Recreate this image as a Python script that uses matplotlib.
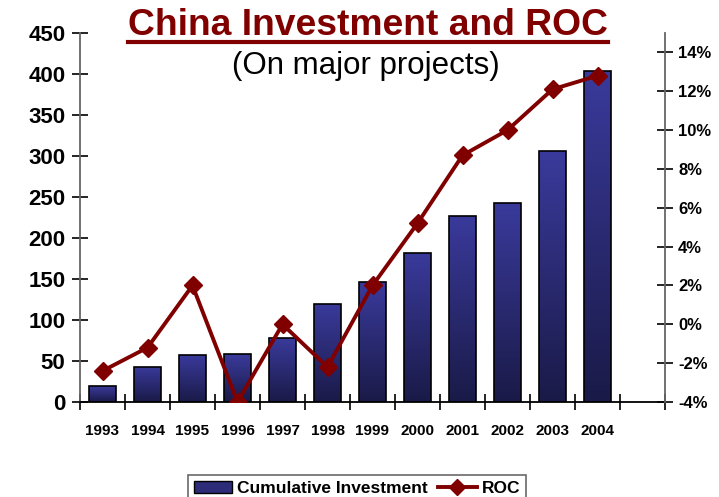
import numpy as np
import matplotlib

matplotlib.use("Agg")
import matplotlib.pyplot as plt
from matplotlib.colors import LinearSegmentedColormap
from matplotlib.lines import Line2D
from matplotlib.patches import Patch
from matplotlib.ticker import FuncFormatter

# Cumulative investment and return on capital, major projects in China
years = ["1993", "1994", "1995", "1996", "1997", "1998",
         "1999", "2000", "2001", "2002", "2003", "2004"]
investment = [19, 43, 57, 58, 78, 120, 146, 182, 227, 243, 306, 404]
roc = [-2.4, -1.2, 2.0, -4.0, 0.0, -2.2, 2.0, 5.2, 8.7, 10.0, 12.1, 12.8]

RED = "#800000"
BAR_TOP = "#3a3a9c"
BAR_BOT = "#1a1a48"

plt.rcParams["font.family"] = ["Liberation Sans", "DejaVu Sans"]

fig = plt.figure(figsize=(7.19, 4.97), dpi=100)
ax = fig.add_axes([80 / 719, 1 - 402 / 497, 585 / 719, 369 / 497])

x = np.arange(len(years))
w = 0.6
cmap = LinearSegmentedColormap.from_list("bar", [BAR_BOT, BAR_TOP])
grad = np.linspace(0, 1, 256).reshape(-1, 1)
bars = ax.bar(x, investment, w, color="none", edgecolor="black", lw=1.2,
              zorder=3)
for b in bars:
    im = ax.imshow(grad, extent=[b.get_x(), b.get_x() + w, 0, b.get_height()],
                   origin="lower", aspect="auto", cmap=cmap, zorder=2)
    im.set_clip_path(b)

ax.set_xlim(-0.5, len(years) + 0.5)
ax.set_ylim(0, 450)
ax.set_yticks(np.arange(0, 451, 50))
ax.set_xticks(np.arange(-0.5, len(years) + 1, 1))
ax.set_xticklabels([])
ax.set_xticks(x, minor=True)
ax.set_xticklabels(years, minor=True)
ax.tick_params(axis="x", which="minor", length=0, pad=16, labelsize=11)
ax.tick_params(axis="x", which="major", direction="inout", length=11,
               width=1.2)
ax.tick_params(axis="y", direction="inout", length=11, width=1.2,
               labelsize=16, pad=5, colors="black")
for lab in ax.get_yticklabels() + ax.get_xticklabels(minor=True):
    lab.set_fontweight("bold")
ax.spines["top"].set_visible(False)
ax.spines["right"].set_visible(False)
ax.spines["left"].set_color("#666666")
ax.spines["left"].set_linewidth(1.3)
ax.spines["bottom"].set_linewidth(1.3)

ax2 = ax.twinx()
ax2.plot(x, roc, color=RED, lw=2.8, marker="D", ms=9, zorder=4)
ax2.set_ylim(-4, 15)
ax2.set_yticks(np.arange(-4, 15, 2))
ax2.yaxis.set_major_formatter(FuncFormatter(lambda v, _: f"{v:.0f}%"))
ax2.tick_params(axis="y", direction="inout", length=11, width=1.2,
                labelsize=12, pad=4)
for lab in ax2.get_yticklabels():
    lab.set_fontweight("bold")
for s in ("top", "left", "bottom"):
    ax2.spines[s].set_visible(False)
ax2.spines["right"].set_color("#666666")
ax2.spines["right"].set_linewidth(1.3)

t = fig.text(368 / 719, 1 - 35 / 497, "China Investment and ROC",
             ha="center", va="baseline", fontsize=26.8, fontweight="bold",
             color=RED)
fig.canvas.draw()
bb = t.get_window_extent()
fig.add_artist(Line2D([bb.x0 / 719, bb.x1 / 719],
                      [1 - 42 / 497, 1 - 42 / 497],
                      color=RED, lw=3, transform=fig.transFigure))
fig.text(366 / 719, 1 - 74 / 497, "(On major projects)", ha="center",
         va="baseline", fontsize=22.5)

handles = [Patch(facecolor="#2c2c78", edgecolor="black"),
           Line2D([], [], color=RED, lw=2.8, marker="D", ms=8)]
leg = fig.legend(handles, ["Cumulative Investment", "ROC"],
                 loc="upper center", bbox_to_anchor=(357 / 719, 1 - 466 / 497),
                 ncol=2, frameon=True, fancybox=False,
                 prop={"weight": "bold", "size": 12.5}, handlelength=2.2,
                 columnspacing=0.6, handletextpad=0.3, borderpad=0.35)
leg.get_frame().set_edgecolor("#444444")
leg.get_frame().set_linewidth(1.2)

fig.savefig("out.png", dpi=100)
